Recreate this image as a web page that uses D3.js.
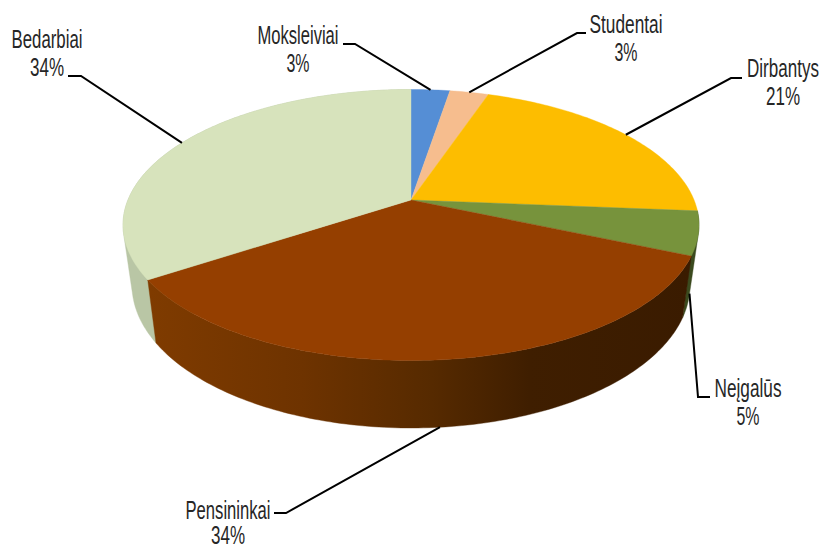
<!DOCTYPE html>
<html><head><meta charset="utf-8">
<script src="https://cdn.jsdelivr.net/npm/d3@7"></script>
<style>html,body{margin:0;padding:0;background:#fff;overflow:hidden}svg{display:block}</style>
</head><body><svg id="c" width="822" height="549"></svg>
<script>
// Data
const categories = ["Moksleiviai","Studentai","Dirbantys","Neįgalūs","Pensininkai","Bedarbiai"];
const values = [2.6,2.6,21.1,5.2,34.25,34.25];
const percentLabels = ["3%","3%","21%","5%","34%","34%"];
// Styles
const topColors = ["#558ed5","#f6bd8e","#fdbd00","#77933c","#953f00","#d7e3bc"];
const wallColors = ["#558ed5","#f6bd8e","#fdbd00","#3b4a1e","url(#brownWall)","#b9c6a5"];
// Layout of labels: centre x, baseline of first line, fitted text width, elbow, elbow stub end
const labelX = [298,626,783,748,228,47];
const labelY = [44,33,77,397,519,48];
const labelW = [81,73,72,67,85,71];
const elbowA = [[355,44],[577,33],[731,78],[698,397],[286,513],[81,76]];
const elbowB = [[343,44],[586,33],[742,78],[710,397],[274,513],[68,76]];
const useLowerRim = [false,false,false,true,true,false];
const wallOrder = [5,3,4];

const svg = d3.select("#c");
const top_ = {cx:411, cy:225, rx:288, ry:135.5};
const low = {cx:411, cy:285, rx:279, ry:143};
const a = (225-200)/135.5;

// Perspective mapping of the angle around the pie onto the ellipse
function unit(t){
  const u=Math.sin(t), v=Math.cos(t), d=1+a*v;
  return [u*Math.sqrt(1-a*a)/d,(v+a)/d];
}
const rim=(e,t)=>{const p=unit(t);return [e.cx+e.rx*p[0],e.cy-e.ry*p[1]];};
const arcs = d3.pie().sort(null).value(d=>d)(values);
const samples=(t0,t1)=>{const n=Math.max(4,Math.ceil((t1-t0)*60));return d3.range(n+1).map(i=>t0+(t1-t0)*i/n);};
const line=d3.line();

// Gradient of the brown wall
const defs=svg.append("defs");
const g=defs.append("linearGradient").attr("id","brownWall").attr("gradientUnits","userSpaceOnUse")
  .attr("x1",150).attr("x2",692).attr("y1",0).attr("y2",0);
[[0,"#7f3b00"],[0.28,"#6e3300"],[0.52,"#562a00"],[0.70,"#3f1e00"],[1,"#3a1b00"]]
  .forEach(s=>g.append("stop").attr("offset",s[0]).attr("stop-color",s[1]));

// Walls: outline of the side faces, including the tangent edge between the two rims
svg.append("g").selectAll("path").data(wallOrder.map(i=>arcs[i])).join("path")
  .attr("d",d=>{
    const ts=samples(d.startAngle,d.endAngle);
    if(d.index===4) return line(ts.map(t=>rim(top_,t)).concat(ts.slice().reverse().map(t=>rim(low,t))))+"Z";
    return line(d3.polygonHull(ts.map(t=>rim(top_,t)).concat(ts.map(t=>rim(low,t)))))+"Z";
  })
  .attr("fill",d=>wallColors[d.index])
  .attr("stroke",d=>wallColors[d.index]).attr("stroke-width",0.4);

// Top faces
svg.append("g").selectAll("path").data(arcs).join("path")
  .attr("d",d=>line([[top_.cx,200]].concat(samples(d.startAngle,d.endAngle).map(t=>rim(top_,t))))+"Z")
  .attr("fill",d=>topColors[d.index])
  .attr("stroke",d=>topColors[d.index]).attr("stroke-width",0.4);

// Leader lines
svg.append("g").selectAll("path").data(arcs).join("path")
  .attr("d",d=>{
    const mid=(d.startAngle+d.endAngle)/2;
    const p=rim(useLowerRim[d.index]?low:top_,mid);
    return line([p,elbowA[d.index],elbowB[d.index]]);
  })
  .attr("fill","none").attr("stroke","#000").attr("stroke-width",2);

// Labels: squeezed horizontally with a transform to the condensed look
const lab=svg.append("g").attr("font-family","'Liberation Sans Narrow','Liberation Sans',sans-serif")
  .attr("font-size",25).attr("fill","#262626").attr("text-anchor","middle");
function put(txt,x,y,w){
  const t=lab.append("text").text(txt);
  const sx=w/t.node().getComputedTextLength();
  t.attr("transform",`translate(${x},${y}) scale(${sx},1)`);
}
categories.forEach((c,i)=>{
  put(c,labelX[i],labelY[i],labelW[i]);
  const y2=Math.min(labelY[i]+28,543.5);
  put(percentLabels[i],labelX[i],y2,percentLabels[i].length===3?34:23);
});
</script></body></html>
